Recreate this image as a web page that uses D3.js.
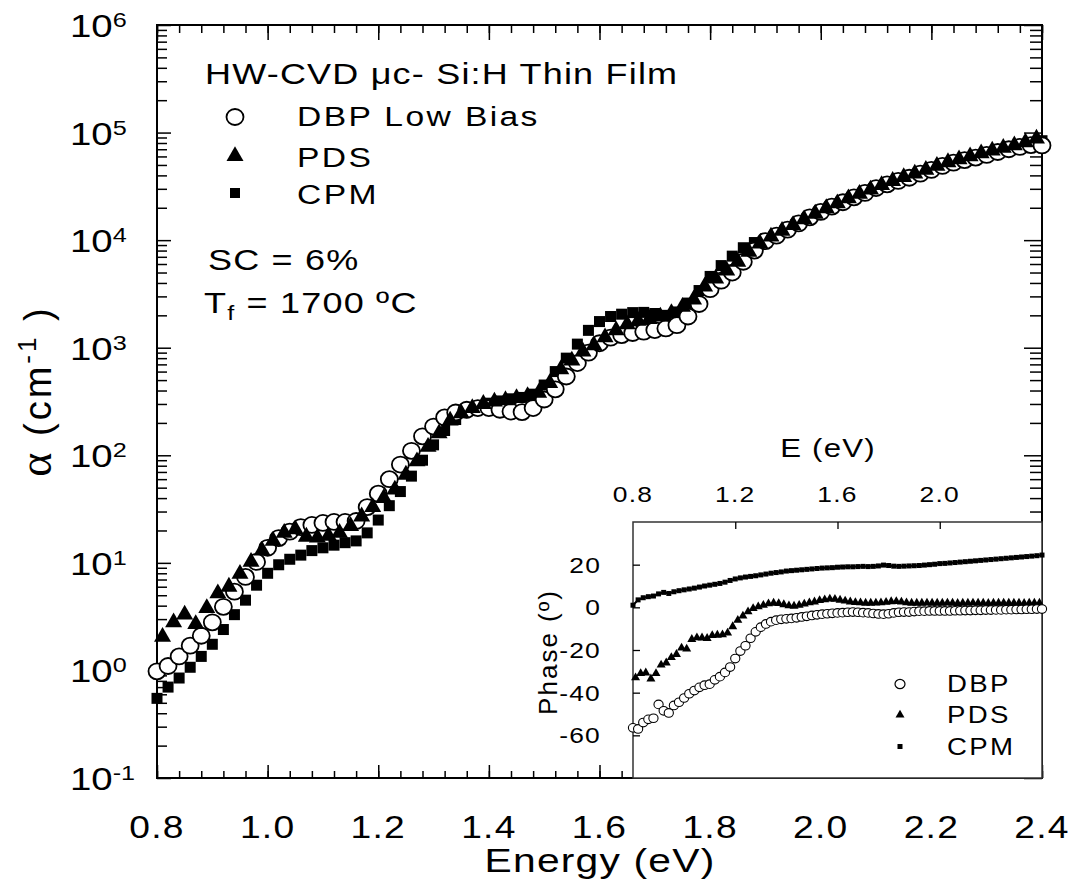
<!DOCTYPE html>
<html>
<head>
<meta charset="utf-8">
<title>Absorption coefficient of HW-CVD μc-Si:H thin film</title>
<script src="https://cdn.jsdelivr.net/npm/d3@7/dist/d3.min.js"></script>
<style>
  html, body { margin: 0; padding: 0; background: #fff; }
  svg { display: block; }
</style>
</head>
<body>
<svg id="chart" width="1077" height="893"></svg>
<script>
// ---------------- data ----------------
// photon energy grids (eV)
const energyGrid = [
  0.80, 0.82, 0.84, 0.86, 0.88, 0.90, 0.92, 0.94, 0.96, 0.98,
  1.00, 1.02, 1.04, 1.06, 1.08, 1.10, 1.12, 1.14, 1.16, 1.18,
  1.20, 1.22, 1.24, 1.26, 1.28, 1.30, 1.32, 1.34, 1.36, 1.38,
  1.40, 1.42, 1.44, 1.46, 1.48, 1.50, 1.52, 1.54, 1.56, 1.58,
  1.60, 1.62, 1.64, 1.66, 1.68, 1.70, 1.72, 1.74, 1.76, 1.78,
  1.80, 1.82, 1.84, 1.86, 1.88, 1.90, 1.92, 1.94, 1.96, 1.98,
  2.00, 2.02, 2.04, 2.06, 2.08, 2.10, 2.12, 2.14, 2.16, 2.18,
  2.20, 2.22, 2.24, 2.26, 2.28, 2.30, 2.32, 2.34, 2.36, 2.38,
  2.40
];
const energyGridPDS = [
  0.81, 0.83, 0.85, 0.87, 0.89, 0.91, 0.93, 0.95, 0.97, 0.99,
  1.01, 1.03, 1.05, 1.07, 1.09, 1.11, 1.13, 1.15, 1.17, 1.19,
  1.21, 1.23, 1.25, 1.27, 1.29, 1.31, 1.33, 1.35, 1.37, 1.39,
  1.41, 1.43, 1.45, 1.47, 1.49, 1.51, 1.53, 1.55, 1.57, 1.59,
  1.61, 1.63, 1.65, 1.67, 1.69, 1.71, 1.73, 1.75, 1.77, 1.79,
  1.81, 1.83, 1.85, 1.87, 1.89, 1.91, 1.93, 1.95, 1.97, 1.99,
  2.01, 2.03, 2.05, 2.07, 2.09, 2.11, 2.13, 2.15, 2.17, 2.19,
  2.21, 2.23, 2.25, 2.27, 2.29, 2.31, 2.33, 2.35, 2.37, 2.39
];

// absorption coefficient alpha (cm^-1)
const alphaDBP = [
  0.98, 1.1, 1.35, 1.7, 2.1, 2.8, 3.9, 5.4, 7.4, 10.2,
  13.8, 17, 19.5, 21.5, 22.5, 23.5, 24, 24, 24.5, 33,
  44, 60, 82, 110, 150, 185, 225, 250, 265, 275,
  275, 265, 255, 252, 275, 330, 410, 540, 720, 900,
  1100, 1240, 1310, 1370, 1410, 1460, 1510, 1620, 1950, 2550,
  3500, 4200, 5000, 6300, 8000, 9800, 11000, 12500, 14300, 16300,
  18300, 20500, 22500, 25000, 27500, 30500, 33000, 35500, 38000, 41500,
  45000, 49000, 52500, 55500, 58500, 62000, 66000, 70000, 73500, 76500,
  76000
];
const alphaPDS = [
  2.05, 2.8, 3.3, 2.7, 3.8, 5.2, 6.0, 7.9, 10.2, 13,
  16, 19, 20.5, 17.5, 17.2, 17.8, 19, 22, 27, 33,
  40, 48, 66, 88, 120, 160, 210, 245, 275, 300,
  315, 325, 340, 355, 380, 470, 630, 760, 920, 1050,
  1250, 1450, 1650, 1780, 1850, 1950, 2100, 2400, 2800, 3700,
  4400, 5200, 6300, 7800, 9300, 10800, 12200, 13800, 15600, 17600,
  19800, 22000, 24500, 27000, 29500, 32500, 35500, 38500, 41500, 45000,
  49000, 53000, 56500, 60000, 64000, 68000, 72000, 76000, 81000, 88000
];
const alphaCPM = [
  0.55, 0.70, 0.85, 1.07, 1.35, 1.75, 2.4, 3.3, 4.5, 6.2,
  8.0, 9.6, 10.8, 11.8, 13.0, 13.8, 14.6, 15.4, 16.0, 19,
  25, 34, 46, 64, 90, 125, 170, 215, 255, 285,
  305, 320, 335, 345, 370, 450, 600, 800, 1080, 1450,
  1750, 1950, 2050, 2120, 2130, 2080, 2000, 2150, 2600, 3400,
  4600, 5800, 7100, 8500, 9500, 10300, 11300, 12500, 14000, 15800,
  17800, 20000, 22500, 25000, 27500, 30500, 33500, 36500, 39500, 43000,
  47000, 50500, 54000, 57500, 61000, 64500, 68500, 72500, 76500, 80500,
  84000
];

// phase of the photo-signal (degrees), inset
const phaseDBP = [
  -56.5, -57, -54, -52.5, -52, -45.5, -48.5, -49.5, -46, -44.5,
  -42.5, -40.5, -39, -37.5, -36.5, -36, -34, -32.5, -30.5, -28,
  -24, -20.5, -18, -14.5, -11.5, -9.3, -7.8, -6.7, -6.0, -5.6,
  -5.4, -5.2, -4.9, -4.5, -4.2, -3.8, -3.5, -3.2, -3.0, -2.8,
  -2.6, -2.5, -2.3, -2.2, -2.3, -2.5, -2.6, -2.9, -3.1, -3.2,
  -3.0, -2.6, -2.3, -2.2, -2.2, -2.0, -1.8, -1.8, -1.7, -1.7,
  -1.7, -1.7, -1.7, -1.6, -1.6, -1.5, -1.5, -1.4, -1.4, -1.3,
  -1.3, -1.2, -1.2, -1.1, -1.1, -1.0, -1.0, -0.9, -0.9, -0.8,
  -0.8
];
const phasePDS = [
  -33, -31, -30.7, -33.5, -31, -27, -26, -23.5, -22, -19,
  -19.5, -15, -14.2, -14.3, -14.5, -13.2, -13, -12.8, -12, -9,
  -6, -4, -2, -0.5, 0.3, 1.0, 1.7, 2.0, 1.8, 1.3,
  0.8, 0.6, 1.0, 1.6, 2.2, 2.6, 3.2, 3.6, 3.9, 3.8,
  3.4, 3.0, 2.6, 2.3, 2.2, 2.0, 2.0, 2.1, 2.2, 2.4,
  2.7, 2.8, 2.5, 2.2, 2.0, 2.0, 2.0, 2.1, 2.0, 2.0,
  2.0, 2.1, 2.0, 1.9, 2.0, 2.0, 2.1, 2.0, 2.0, 1.9,
  2.0, 2.0, 2.1, 2.0, 2.0, 2.0, 1.9, 2.0, 2.0, 2.0
];
const phaseCPM = [
  1.0, 3.5, 4.5, 5.0, 5.3, 6.3, 7.0, 6.5, 7.3, 7.8,
  8.2, 8.6, 9.0, 9.5, 10.0, 10.4, 10.8, 11.2, 11.8, 12.6,
  13.3, 13.8, 14.2, 14.5, 14.8, 15.2, 15.6, 16.0, 16.3, 16.6,
  17.0, 17.2, 17.4, 17.6, 17.8, 18.0, 18.2, 18.4, 18.5, 18.6,
  18.8, 18.9, 19.0, 19.0, 19.1, 19.2, 19.1, 19.2, 19.4, 19.8,
  19.6, 19.3, 19.2, 19.3, 19.4, 19.5, 19.6, 19.8, 20.0, 20.2,
  20.5, 20.6, 20.8, 21.0, 21.2, 21.4, 21.6, 21.8, 22.0, 22.2,
  22.4, 22.6, 22.8, 23.0, 23.2, 23.4, 23.6, 23.8, 24.0, 24.2,
  24.5
];

// ticks and labels
const energyTicks = [0.8, 1.0, 1.2, 1.4, 1.6, 1.8, 2.0, 2.2, 2.4];
const energyTickLabels = ["0.8", "1.0", "1.2", "1.4", "1.6", "1.8", "2.0", "2.2", "2.4"];
const alphaDecades = [0.1, 1, 10, 100, 1e3, 1e4, 1e5, 1e6];
const decadeExponents = ["-1", "0", "1", "2", "3", "4", "5", "6"];
const insetEnergyTicks = [0.8, 1.2, 1.6, 2.0];
const insetEnergyTickLabels = ["0.8", "1.2", "1.6", "2.0"];
const phaseTicks = [20, 0, -20, -40, -60];
const phaseTickLabels = ["20", "0", "-20", "-40", "-60"];
const seriesNames = ["DBP Low Bias", "PDS", "CPM"];
const insetSeriesNames = ["DBP", "PDS", "CPM"];

// ---------------- drawing ----------------
const FONT = "'Liberation Sans', Arial, Helvetica, sans-serif";
const SX = 1.2; // horizontal stretch of the upright lettering
const svg = d3.select("#chart");

const plot = { left: 157, right: 1042, top: 25, bottom: 778 };
const x = d3.scaleLinear().domain([0.8, 2.4]).range([plot.left, plot.right]);
const y = d3.scaleLog().domain([0.1, 1e6]).range([plot.bottom, plot.top]);

function addText(parent, px, py, anchor, size, spacing) {
  return parent.append("text")
    .attr("transform", `translate(${px},${py}) scale(${SX},1)`)
    .attr("text-anchor", anchor)
    .attr("font-family", FONT)
    .attr("font-size", size)
    .attr("letter-spacing", spacing || 0)
    .attr("fill", "#000");
}

function tickAxis(parent, axis, transform, values, size, width) {
  const g = parent.append("g").attr("transform", transform)
    .call(axis.tickValues(values).tickSize(size).tickSizeOuter(0).tickFormat(""));
  g.select(".domain").remove();
  g.selectAll("text").remove();
  g.selectAll("line").attr("stroke", "#000").attr("stroke-width", width || 1.5);
  return g;
}

// minor tick positions
const minorEnergy = d3.range(0, 41).map(i => 0.8 + i * 0.04);
const minorAlpha = alphaDecades.slice(0, -1).flatMap(d => d3.range(2, 10).map(k => k * d));

// main axes ticks (all inward)
tickAxis(svg, d3.axisBottom(x), `translate(0,${plot.bottom})`, minorEnergy, -7);
tickAxis(svg, d3.axisBottom(x), `translate(0,${plot.bottom})`, energyTicks, -13);
tickAxis(svg, d3.axisTop(x), `translate(0,${plot.top})`, minorEnergy, -8);
tickAxis(svg, d3.axisTop(x), `translate(0,${plot.top})`, energyTicks, -15);
tickAxis(svg, d3.axisLeft(y), `translate(${plot.left},0)`, minorAlpha, -10);
tickAxis(svg, d3.axisLeft(y), `translate(${plot.left},0)`, alphaDecades, -14);
tickAxis(svg, d3.axisRight(y), `translate(${plot.right},0)`, minorAlpha, -12);
tickAxis(svg, d3.axisRight(y), `translate(${plot.right},0)`, alphaDecades, -18);

svg.append("rect")
  .attr("x", plot.left).attr("y", plot.top)
  .attr("width", plot.right - plot.left).attr("height", plot.bottom - plot.top)
  .attr("fill", "none").attr("stroke", "#000").attr("stroke-width", 2);

// x tick labels
energyTicks.forEach((v, i) => {
  addText(svg, x(v), 838, "middle", 31, 1).text(energyTickLabels[i]);
});

// y tick labels: 10^n
alphaDecades.forEach((v, i) => {
  const t = addText(svg, 70, y(v) + 12, "start", 32, 0);
  t.append("tspan").text("10");
  t.append("tspan").attr("dy", -10).attr("font-size", 21).text(decadeExponents[i]);
});

// axis titles
addText(svg, 600, 872, "middle", 34, 1).text("Energy (eV)");

const yTitle = svg.append("text")
  .attr("transform", "translate(51,391) rotate(-90)")
  .attr("text-anchor", "middle")
  .attr("font-family", FONT)
  .attr("font-size", 38)
  .attr("letter-spacing", 3)
  .attr("fill", "#000");
yTitle.append("tspan").attr("font-family", "'Liberation Serif', 'DejaVu Serif', serif").attr("font-size", 46).text("α");
yTitle.append("tspan").text(" (cm");
yTitle.append("tspan").attr("dy", -15).attr("font-size", 26).text("-1");
yTitle.append("tspan").attr("dy", 15).text(" )");

// marker shapes
const triPath = s => `M0,${-s * 0.58}L${s * 0.5},${s * 0.29}L${-s * 0.5},${s * 0.29}Z`;

// ---- main series: CPM squares, DBP circles, PDS triangles ----
svg.append("g").selectAll("rect")
  .data(d3.zip(energyGrid, alphaCPM)).join("rect")
  .attr("x", d => x(d[0]) - 5.5).attr("y", d => y(d[1]) - 5.5)
  .attr("width", 11).attr("height", 11).attr("fill", "#000");

svg.append("g").selectAll("ellipse")
  .data(d3.zip(energyGrid, alphaDBP)).join("ellipse")
  .attr("cx", d => x(d[0])).attr("cy", d => y(d[1]))
  .attr("rx", 8.5).attr("ry", 8)
  .attr("fill", "#fff").attr("stroke", "#000").attr("stroke-width", 1.8);

svg.append("g").selectAll("path")
  .data(d3.zip(energyGridPDS, alphaPDS)).join("path")
  .attr("transform", d => `translate(${x(d[0])},${y(d[1])})`)
  .attr("d", triPath(17)).attr("fill", "#000");

// ---- legend and annotations ----
addText(svg, 205, 84, "start", 30, 1).text("HW-CVD  μc- Si:H Thin Film");
svg.append("ellipse").attr("cx", 235).attr("cy", 117).attr("rx", 8.5).attr("ry", 8)
  .attr("fill", "#fff").attr("stroke", "#000").attr("stroke-width", 1.8);
svg.append("path").attr("transform", "translate(235,156)").attr("d", triPath(17)).attr("fill", "#000");
svg.append("rect").attr("x", 230).attr("y", 188).attr("width", 10).attr("height", 10).attr("fill", "#000");
addText(svg, 297, 126, "start", 28, 2).text(seriesNames[0]);
addText(svg, 297, 167, "start", 28, 2).text(seriesNames[1]);
addText(svg, 297, 204, "start", 28, 2).text(seriesNames[2]);

addText(svg, 208, 270, "start", 30, 1).text("SC = 6%");
const tf = addText(svg, 204, 313, "start", 30, 1);
tf.append("tspan").text("T");
tf.append("tspan").attr("dy", 7).attr("font-size", 21).text("f");
tf.append("tspan").attr("dy", -7).text(" = 1700 ºC");

// ---------------- inset: phase ----------------
const inset = { left: 633, right: 1042, top: 522, bottom: 778 };
const ix = d3.scaleLinear().domain([0.8, 2.4]).range([inset.left, inset.right]);
const iy = d3.scaleLinear().domain([-80, 40]).range([inset.bottom, inset.top]);

const gi = svg.append("g");
gi.append("rect")
  .attr("x", inset.left).attr("y", inset.top)
  .attr("width", inset.right - inset.left).attr("height", inset.bottom - inset.top)
  .attr("fill", "#fff").attr("stroke", "#333").attr("stroke-width", 1.5);

tickAxis(gi, d3.axisTop(ix), `translate(0,${inset.top})`, insetEnergyTicks.slice(1), -7, 1.3);
tickAxis(gi, d3.axisLeft(iy), `translate(${inset.left},0)`, phaseTicks, -7, 1.3);

insetEnergyTicks.forEach((v, i) => {
  addText(gi, ix(v), 502, "middle", 22, 1).text(insetEnergyTickLabels[i]);
});
phaseTicks.forEach((v, i) => {
  addText(gi, 601, iy(v) + 8, "end", 22, 1).text(phaseTickLabels[i]);
});
addText(gi, 828, 457, "middle", 26, 1).text("E (eV)");
gi.append("text")
  .attr("transform", "translate(557,652) rotate(-90)")
  .attr("text-anchor", "middle")
  .attr("font-family", FONT).attr("font-size", 26).attr("letter-spacing", 2)
  .attr("fill", "#000")
  .text("Phase (º)");

// inset series
const cpmLine = d3.line().x(d => ix(d[0])).y(d => iy(d[1]));
gi.append("path").datum(d3.zip(energyGrid, phaseCPM))
  .attr("d", cpmLine).attr("fill", "none").attr("stroke", "#000").attr("stroke-width", 2);
gi.append("g").selectAll("rect")
  .data(d3.zip(energyGrid, phaseCPM)).join("rect")
  .attr("x", d => ix(d[0]) - 2.5).attr("y", d => iy(d[1]) - 2.5)
  .attr("width", 5).attr("height", 5).attr("fill", "#000");

gi.append("g").selectAll("path")
  .data(d3.zip(energyGridPDS, phasePDS)).join("path")
  .attr("transform", d => `translate(${ix(d[0])},${iy(d[1])})`)
  .attr("d", triPath(9)).attr("fill", "#000");

gi.append("g").selectAll("ellipse")
  .data(d3.zip(energyGrid, phaseDBP)).join("ellipse")
  .attr("cx", d => ix(d[0])).attr("cy", d => iy(d[1]))
  .attr("rx", 4.6).attr("ry", 4.3)
  .attr("fill", "#fff").attr("stroke", "#000").attr("stroke-width", 1.1);

// inset legend
gi.append("ellipse").attr("cx", 900).attr("cy", 684).attr("rx", 5).attr("ry", 4.6)
  .attr("fill", "#fff").attr("stroke", "#000").attr("stroke-width", 1.2);
gi.append("path").attr("transform", "translate(900,715)").attr("d", triPath(9)).attr("fill", "#000");
gi.append("rect").attr("x", 897.5).attr("y", 744).attr("width", 5).attr("height", 5).attr("fill", "#000");
addText(gi, 947, 692, "start", 23, 2).text(insetSeriesNames[0]);
addText(gi, 947, 723, "start", 23, 2).text(insetSeriesNames[1]);
addText(gi, 947, 755, "start", 23, 2).text(insetSeriesNames[2]);
</script>
</body>
</html>
